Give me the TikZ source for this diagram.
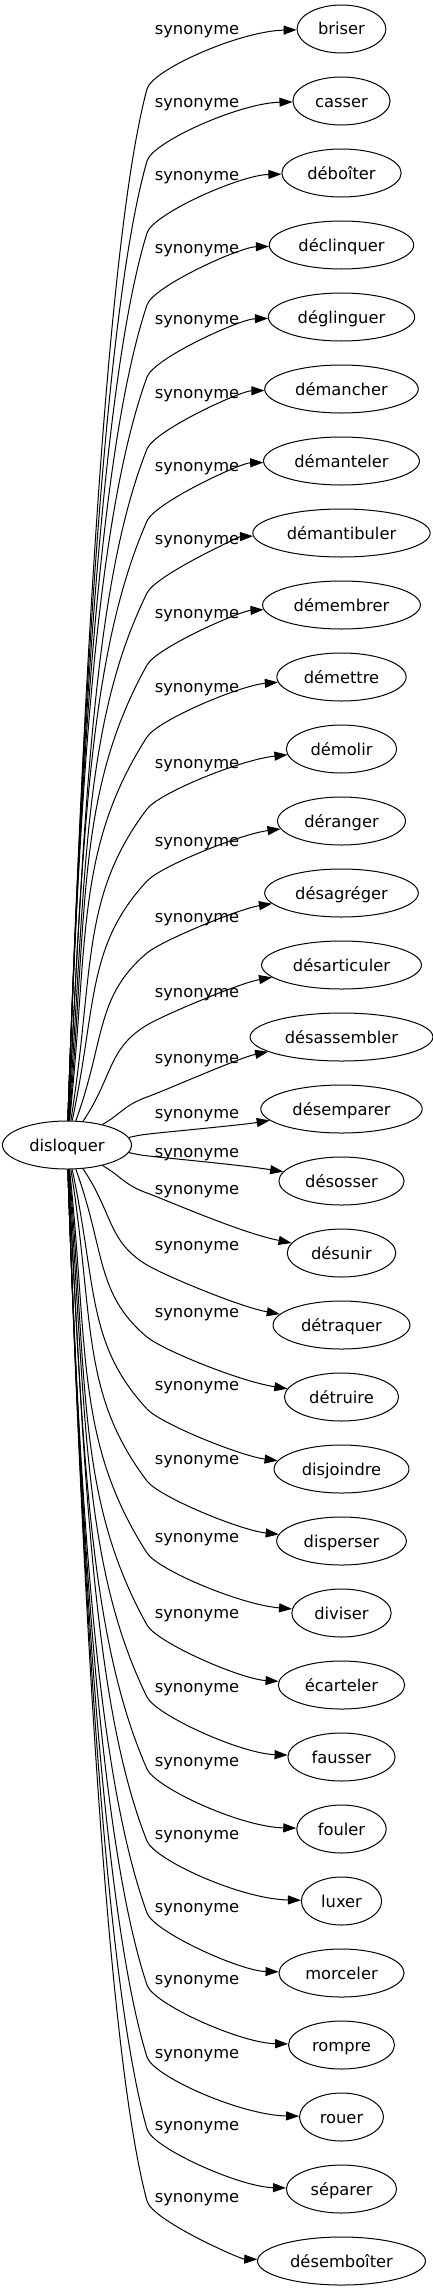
\documentclass[tikz,border=0pt]{standalone}
\usepackage{fontspec}
\setmainfont{DejaVu Sans}
\usetikzlibrary{shapes,arrows.meta,calc}

\tikzset{
  bulle/.style={ellipse, draw, line width=1pt, inner xsep=8pt, inner ysep=0pt,
    minimum height=48pt, text height=12pt, text depth=0pt,
    font=\fontsize{16.3}{19}\selectfont},
  etiq/.style={inner sep=0pt, text height=10pt, text depth=0pt,
    font=\fontsize{16.3}{19}\selectfont},
  lien/.style={line width=1pt, -{Triangle[length=13pt,width=9pt]}}
}

\begin{document}
\begin{tikzpicture}[x=1pt,y=1pt]
\useasboundingbox (0,0) rectangle (433,-2291);
\node (dis) [bulle] at (67,-1145) {disloquer};
\foreach \mot/\ly [count=\i from 0] in {briser/30, casser/102, déboîter/175,
  déclinquer/248, déglinguer/319, démancher/393, démanteler/466,
  démantibuler/539, démembrer/613, démettre/687, démolir/763, déranger/841,
  désagréger/917, désarticuler/992, désassembler/1058, désemparer/1113,
  désosser/1152, désunir/1189, détraquer/1245, détruire/1312,
  disjoindre/1385, disperser/1459, diviser/1537, écarteler/1613,
  fausser/1687, fouler/1761, luxer/1834, morceler/1907, rompre/1979,
  rouer/2053, séparer/2125, désemboîter/2197}
{
  \pgfmathsetmacro\ty{29+72*\i}
  \pgfmathsetmacro\sg{ifthenelse(\ty<1145,-1,1)}
  \pgfmathsetmacro\av{abs(\ty-1145)}
  \pgfmathsetmacro\bv{min(60,0.7*\av)}
  \pgfmathsetmacro\Ty{\ty-(\sg)*\bv}
  \pgfmathsetmacro\al{atan((\av/150)^2+0.08)}
  \pgfmathtruncatemacro\an{-(\sg)*\al}
  \pgfmathsetmacro\lv{0.45*(\av-\bv)}
  \pgfmathsetmacro\ph{atan(\av/300)}
  \pgfmathsetmacro\wv{min(145,0.3*(\av-\bv)+10)}
  \pgfmathsetmacro\cbx{147-\wv*cos(\ph)}
  \pgfmathsetmacro\cby{\Ty-(\sg)*\wv*sin(\ph)}
  \pgfmathsetmacro\ccx{147+20*cos(\ph)}
  \pgfmathsetmacro\ccy{\Ty+(\sg)*20*sin(\ph)}
  \pgfmathsetmacro\cdy{\ty-(\sg)*max(2,min(0.45*\av,24-\av/30))}
  \node (n\i) [bulle] at (341.5,-\ty) {\mot};
  \node (l\i) [etiq] at (197,-\ly) {synonyme};
  \draw[lien] (dis.\an) .. controls ($(dis.\an)+(\an:\lv)$) and (\cbx,-\cby)
    .. (147,-\Ty) .. controls (\ccx,-\ccy) and (240,-\cdy) .. (n\i);
}
\end{tikzpicture}
\end{document}
